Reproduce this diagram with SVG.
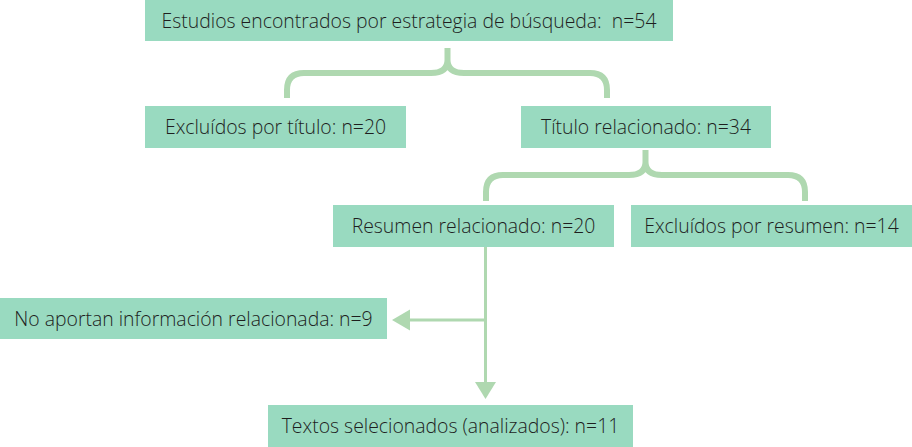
<svg xmlns="http://www.w3.org/2000/svg" width="912" height="447" viewBox="0 0 912 447">
<style>
.box{fill:#99DAC0}
.lbl{font-family:"Open Sans","Noto Sans",sans-serif;font-size:19.4px;font-weight:300;fill:#1E1E1E;text-anchor:middle}
.brace{fill:none;stroke:#AFD8B0;stroke-width:6;stroke-linecap:butt}
.line{fill:none;stroke:#AFD8B0;stroke-width:3}
.head{fill:#AFD8B0}
</style>
<rect width="912" height="447" fill="#fff"/>
<g id="connectors">
<path class="brace" d="M287,98 V90 Q287,73 304,73 H431 Q447.5,73 447.5,60 V48 M447.5,60 Q447.5,73 464,73 H590 Q607,73 607,90 V98"/>
<path class="brace" d="M486,201 V192 Q486,175 503,175 H629 Q645.5,175 645.5,162 V150 M645.5,162 Q645.5,175 662,175 H788 Q805,175 805,192 V201"/>
<path class="line" d="M485.5,247 V383"/>
<polygon class="head" points="475,382 496,382 485.5,399"/>
<path class="line" d="M485.5,320 H409"/>
<polygon class="head" points="410,309.5 410,330.5 392,320"/>
</g>
<g id="n1"><rect class="box" x="145" y="0" width="528" height="41"/><text class="lbl" x="409" y="27.5">Estudios encontrados por estrategia de búsqueda:&#160; n=54</text></g>
<g id="n2"><rect class="box" x="145" y="106" width="261" height="42"/><text class="lbl" x="275.5" y="134">Excluídos por título: n=20</text></g>
<g id="n3"><rect class="box" x="521" y="106" width="250" height="42"/><text class="lbl" x="646" y="134">Título relacionado: n=34</text></g>
<g id="n4"><rect class="box" x="333" y="205" width="281" height="42"/><text class="lbl" x="473.5" y="233">Resumen relacionado: n=20</text></g>
<g id="n5"><rect class="box" x="631" y="205" width="281" height="42"/><text class="lbl" x="771.5" y="233">Excluídos por resumen: n=14</text></g>
<g id="n6"><rect class="box" x="0" y="298" width="387" height="41"/><text class="lbl" x="193.5" y="325.5">No aportan información relacionada: n=9</text></g>
<g id="n7"><rect class="box" x="268" y="405" width="365" height="42"/><text class="lbl" x="450.5" y="433">Textos selecionados (analizados): n=11</text></g>
</svg>
